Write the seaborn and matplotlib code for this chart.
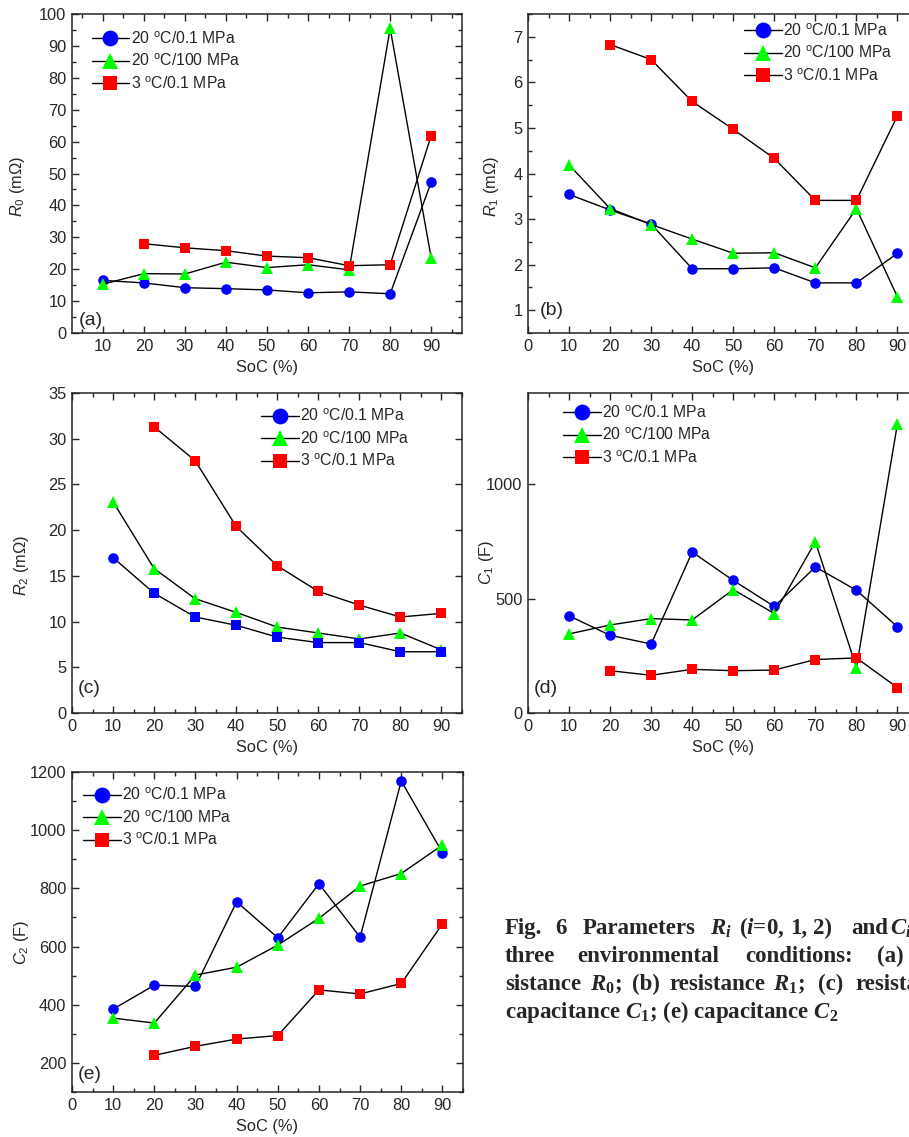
import numpy as np
import pandas as pd
import matplotlib
matplotlib.use("Agg")
import matplotlib.pyplot as plt
import seaborn as sns
from matplotlib.ticker import MultipleLocator

# SoC values
soc = [10, 20, 30, 40, 50, 60, 70, 80, 90]
soc_cold = [20, 30, 40, 50, 60, 70, 80, 90]   # 3 C series has no 10 % point

# legend names
names = [r"20 $^\mathrm{o}$C/0.1 MPa", r"20 $^\mathrm{o}$C/100 MPa", r"3 $^\mathrm{o}$C/0.1 MPa"]

# (a) R0 (mOhm)
r0_a = [16.5, 15.7, 14.2, 13.9, 13.5, 12.6, 12.9, 12.3, 47.3]
r0_b = [15.3, 18.6, 18.5, 22.2, 20.5, 21.4, 19.8, 95.5, 23.5]
r0_c = [28.0, 26.7, 25.8, 24.1, 23.6, 21.1, 21.4, 61.9]

# (b) R1 (mOhm)
r1_a = [3.54, 3.20, 2.89, 1.91, 1.91, 1.93, 1.60, 1.60, 2.25]
r1_b = [4.19, 3.23, 2.88, 2.56, 2.25, 2.26, 1.93, 3.23, 1.29]
r1_c = [6.83, 6.50, 5.58, 4.97, 4.33, 3.41, 3.41, 5.27]

# (c) R2 (mOhm)
r2_a = [17.0, 13.1, 10.5, 9.6, 8.3, 7.7, 7.7, 6.7, 6.7]
r2_b = [23.1, 15.8, 12.5, 11.0, 9.4, 8.75, 8.1, 8.75, 6.9]
r2_c = [31.3, 27.6, 20.4, 16.1, 13.3, 11.8, 10.5, 10.9]

# (d) C1 (F)
c1_a = [425, 340, 302, 704, 580, 466, 639, 537, 377]
c1_b = [346, 385, 413, 407, 540, 435, 749, 199, 1266]
c1_c = [185, 165, 191, 185, 188, 234, 241, 111]

# (e) C2 (F)
c2_a = [385, 467, 463, 754, 630, 816, 632, 1169, 923]
c2_b = [354, 337, 502, 529, 605, 697, 808, 851, 949]
c2_c = [226, 257, 282, 294, 451, 437, 473, 678]

sns.set_style("ticks")
plt.rcParams["font.family"] = ["Liberation Sans", "DejaVu Sans"]
plt.rcParams["mathtext.fontset"] = "custom"
plt.rcParams["mathtext.rm"] = "Liberation Sans"
plt.rcParams["mathtext.it"] = "Liberation Sans:italic"
plt.rcParams["mathtext.bf"] = "Liberation Serif:bold"
plt.rcParams["mathtext.bfit"] = "Liberation Serif:italic:bold"

W, H = 909, 1137
fig = plt.figure(figsize=(W / 100, H / 100), dpi=100)


def make_axes(left, top, width, height):
    return fig.add_axes([left / W, 1 - (top + height) / H, width / W, height / H])


def draw_series(ax, x, y, color, marker, ms, label):
    sns.lineplot(x=x, y=y, ax=ax, color="black", linewidth=1.0, marker=marker,
                 markersize=ms, markerfacecolor=color, markeredgewidth=0, label=label)


def style_axes(ax, xlim, ylim, ymaj, ymin, ylabel, ylab_xy, tag, tag_xy, leg_xy):
    ax.set_xlim(*xlim)
    ax.set_ylim(*ylim)
    ax.xaxis.set_major_locator(MultipleLocator(10))
    ax.xaxis.set_minor_locator(MultipleLocator(5))
    ax.yaxis.set_major_locator(MultipleLocator(ymaj))
    if ymin:
        ax.yaxis.set_minor_locator(MultipleLocator(ymin))
    ax.tick_params(which="both", direction="in", top=True, right=True, width=1.0,
                   labelsize=11.8, pad=4)
    ax.tick_params(which="major", length=5)
    ax.tick_params(which="minor", length=3)
    for s in ax.spines.values():
        s.set_linewidth(1.1)
    ax.set_xlabel("SoC (%)", fontsize=11.8)
    ax.xaxis.set_label_coords(0.5, -0.085)
    ax.set_ylabel(ylabel, fontsize=11.8)
    ax.yaxis.set_label_coords(*ylab_xy)
    ax.text(tag_xy[0], tag_xy[1], tag, transform=ax.transAxes, fontsize=14,
            va="center", ha="left")
    ax.legend(loc="upper left", bbox_to_anchor=leg_xy, frameon=False, fontsize=11.3,
              markerscale=1.5, handlelength=2.4, handletextpad=0.1, labelspacing=0.38,
              borderpad=0, borderaxespad=0)


blue, green, red = "#0000ff", "#00ff00", "#ff0000"

# (a)
ax = make_axes(72, 14, 390, 319)
draw_series(ax, soc, r0_a, blue, "o", 7.6, names[0])
draw_series(ax, soc, r0_b, green, "^", 8, names[1])
draw_series(ax, soc_cold, r0_c, red, "s", 6.6, names[2])
style_axes(ax, (2.5, 97.5), (0, 100), 10, 5, r"$R_0$ (mΩ)", (-0.115, 0.46),
           "(a)", (0.018, 0.04), (0.05, 0.95))

# (b)
ax = make_axes(528, 14, 390, 319)
draw_series(ax, soc, r1_a, blue, "o", 7.6, names[0])
draw_series(ax, soc, r1_b, green, "^", 8, names[1])
draw_series(ax, soc_cold, r1_c, red, "s", 6.6, names[2])
style_axes(ax, (0, 95), (0.5, 7.5), 1, 0.5, r"$R_1$ (mΩ)", (-0.068, 0.46),
           "(b)", (0.03, 0.07), (0.554, 0.975))

# (c) - blue series uses a circle at 10 % and squares afterwards
ax = make_axes(72, 393, 390, 320)
sns.lineplot(x=soc, y=r2_a, ax=ax, color="black", linewidth=1.0, marker="o",
             markersize=7.6, markerfacecolor=blue, markeredgewidth=0,
             markevery=[0], label=names[0])
sns.scatterplot(x=soc[1:], y=r2_a[1:], ax=ax, color=blue, marker="s", s=44,
                linewidth=0, zorder=3)
draw_series(ax, soc, r2_b, green, "^", 8, names[1])
draw_series(ax, soc_cold, r2_c, red, "s", 6.6, names[2])
style_axes(ax, (0, 95), (0, 35), 5, None, r"$R_2$ (mΩ)", (-0.104, 0.46),
           "(c)", (0.015, 0.078), (0.485, 0.955))

# (d)
ax = make_axes(528, 393, 390, 320)
draw_series(ax, soc, c1_a, blue, "o", 7.6, names[0])
draw_series(ax, soc, c1_b, green, "^", 8, names[1])
draw_series(ax, soc_cold, c1_c, red, "s", 6.6, names[2])
style_axes(ax, (0, 95), (0, 1400), 500, None, r"$C_1$ (F)", (-0.082, 0.47),
           "(d)", (0.015, 0.078), (0.09, 0.965))

# (e)
ax = make_axes(72, 772, 391, 320)
draw_series(ax, soc, c2_a, blue, "o", 7.6, names[0])
draw_series(ax, soc, c2_b, green, "^", 8, names[1])
draw_series(ax, soc_cold, c2_c, red, "s", 6.6, names[2])
style_axes(ax, (0, 95), (100, 1200), 200, 100, r"$C_2$ (F)", (-0.106, 0.466),
           "(e)", (0.015, 0.056), (0.028, 0.955))

# caption (justified lines, cut off by the right edge as in the page)
cap = dict(fontfamily="Liberation Serif", fontweight="bold", fontsize=16.5, va="baseline")
line1 = [("Fig.", 505), ("6", 555), ("Parameters", 583), (r"$\mathbfit{R}_\mathbfit{i}$", 710),
         (r"($\mathbfit{i}$=0,", 739), ("1,", 790), ("2)", 813), ("and", 851),
         (r"$\mathbfit{C}_\mathbfit{i}$", 890)]
line2 = [("three", 505), ("environmental", 577), ("conditions:", 745), ("(a)", 877)]
line3 = [("sistance", 505), (r"$\mathbfit{R}_\mathbf{0}$;", 590), ("(b)", 632),
         ("resistance", 669), (r"$\mathbfit{R}_\mathbf{1}$;", 773), ("(c)", 818),
         ("resistance", 855)]
for words, yb in [(line1, 934), (line2, 962), (line3, 990)]:
    for word, xp in words:
        fig.text(xp / W, 1 - yb / H, word, **cap)
fig.text(505 / W, 1 - 1018 / H,
         r"capacitance $\mathbfit{C}_\mathbf{1}$; (e) capacitance $\mathbfit{C}_\mathbf{2}$", **cap)

fig.savefig("out.png", dpi=100)
